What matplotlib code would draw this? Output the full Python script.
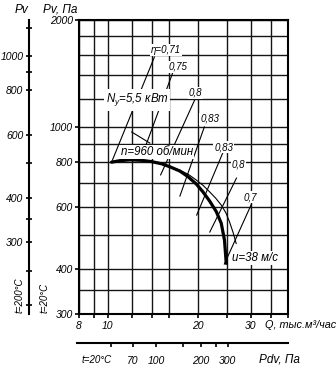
import matplotlib.pyplot as plt
import numpy as np
from matplotlib.ticker import NullFormatter

plt.rcParams['font.family'] = ['Liberation Sans', 'DejaVu Sans']
plt.rcParams['font.style'] = 'italic'
plt.rcParams['font.size'] = 7.5
plt.rcParams['mathtext.fontset'] = 'custom'
plt.rcParams['mathtext.rm'] = 'Liberation Sans:italic'
plt.rcParams['mathtext.it'] = 'Liberation Sans:italic'

# P-Q curve at n=960 rpm (Q in thousand m3/h, Pv in Pa)
q_curve = [10.28, 10.96, 11.83, 12.9, 13.98, 15.1, 16.09, 17.37, 18.51,
           19.74, 20.77, 21.87, 23.02, 23.92, 24.53, 24.86]
p_curve = [799, 807, 811, 809, 802, 791, 776, 755, 728,
           694, 660, 622, 581, 539, 483, 416]

# thin companion line
q_thin = [16.09, 17.4, 18.6, 19.74, 20.8, 21.87, 22.9, 23.92, 24.8, 25.49, 26.2, 26.84]
p_thin = [776, 759, 738, 712, 688, 660, 634, 606, 576, 544, 508, 473]

# efficiency labels and their leader lines
eff_labels = ["η=0,71", "0,75", "0,8", "0,83", "0,83", "0,8", "0,7"]
eff_text_q = [15.6, 17.2, 19.6, 21.9, 24.35, 27.3, 29.95]
eff_text_p = [1648, 1477, 1249, 1056, 881, 785, 638]
lead_q0 = [14.3, 16.5, 19.5, 21.0, 24.2, 26.9, 30.2]
lead_p0 = [1575, 1430, 1194, 1003, 848, 721, 610]
lead_q1 = [10.28, 12.8, 15.0, 17.4, 19.8, 21.9, 24.5]
lead_p1 = [799, 805, 736, 642, 568, 509, 414]

# pointer under the power label
ptr_q = [12.0, 13.8]
ptr_p = [971, 904]

# axis ticks
q_major = [8, 10, 20, 30]
q_minor = [9, 12, 14, 16, 25, 35, 40]
p_major = [300, 400, 600, 800, 1000, 2000]
p_minor = [350, 500, 700, 900, 1200, 1400, 1600, 1800]

# Pv scale for t=200°C and dynamic pressure scale
T_RATIO = 0.63
t200_major = [300, 400, 600, 800, 1000]
t200_minor = [200, 250, 350, 500, 900, 1200]
PDV_COEF = 0.476
pdv_ticks = [50, 70, 100, 150, 200, 250, 300]
pdv_labels = ["", "70", "100", "", "200", "", "300"]

W, H = 336, 368
def fx(px):
    return px / W
def fy(py):
    return 1 - py / H

fig = plt.figure(figsize=(W / 100, H / 100), dpi=100)
L, R, B, T = fx(79), fx(288), fy(314), fy(20)

ax = fig.add_axes([L, B, R - L, T - B])
ax.set_xscale('log')
ax.set_yscale('log')
ax.set_xlim(8, 40)
ax.set_ylim(300, 2000)
ax.set_xticks(q_major, [str(v) for v in q_major])
ax.set_xticks(q_minor, minor=True)
ax.set_yticks(p_major, [str(v) for v in p_major])
ax.set_yticks(p_minor, minor=True)
ax.xaxis.set_minor_formatter(NullFormatter())
ax.yaxis.set_minor_formatter(NullFormatter())
ax.grid(True, which='both', color='#151515', lw=1.0)
ax.tick_params(axis='x', which='both', direction='out', length=3, width=1.2, pad=2)
ax.tick_params(axis='y', which='major', direction='out', length=3, width=1.2, pad=1.5)
ax.tick_params(axis='y', which='minor', length=0)
for s in ax.spines.values():
    s.set_linewidth(1.5)

ax.plot(q_curve, p_curve, color='black', lw=2.3, solid_capstyle='round',
        solid_joinstyle='round', zorder=4)
ax.plot(q_thin, p_thin, color='black', lw=0.8, zorder=4)
for q0, p0, q1, p1 in zip(lead_q0, lead_p0, lead_q1, lead_p1):
    ax.plot([q0, q1], [p0, p1], color='black', lw=0.8, zorder=3)
ax.plot(ptr_q, ptr_p, color='black', lw=0.8, zorder=3)

box = dict(facecolor='white', edgecolor='none', pad=0.6)
for lab, q, p in zip(eff_labels, eff_text_q, eff_text_p):
    ax.text(q, p, lab, ha='center', va='center', fontsize=7, bbox=box, zorder=5)
ax.text(12.5, 1194, "$N_у$=5,5 кВт", ha='center', va='center', fontsize=8.3,
        bbox=dict(facecolor='white', edgecolor='none', pad=1.5), zorder=5)
ax.text(14.56, 853, "n=960 об/мин", ha='center', va='center', fontsize=8.3,
        bbox=dict(facecolor='white', edgecolor='none', pad=1.0), zorder=5)
ax.text(25.9, 431, "u=38 м/с", ha='left', va='center', fontsize=8.3,
        bbox=dict(facecolor='white', edgecolor='none', pad=0.5), zorder=5)

# Pv scale for t=200°C
ax_t = fig.add_axes([fx(29), B, 0.0001, T - B])
ax_t.set_yscale('log')
ax_t.set_ylim(300 * T_RATIO, 2000 * T_RATIO)
ax_t.set_yticks(t200_major, [str(v) for v in t200_major])
ax_t.set_yticks(t200_minor, minor=True)
ax_t.yaxis.set_minor_formatter(NullFormatter())
ax_t.tick_params(axis='y', which='both', direction='inout', length=4, width=1.2, pad=2)
ax_t.set_xticks([])
for k in ['top', 'right', 'bottom']:
    ax_t.spines[k].set_visible(False)
ax_t.spines['left'].set_linewidth(1.5)
ax_t.patch.set_visible(False)

# dynamic pressure scale
ax_d = fig.add_axes([fx(77), fy(343), R - fx(77), 0.0001])
ax_d.set_xscale('log')
ax_d.set_xlim(8 * 10 ** (-2 / 300), 40)
ax_d.set_xticks(np.sqrt(np.array(pdv_ticks) / PDV_COEF), pdv_labels)
ax_d.xaxis.set_minor_locator(plt.NullLocator())
ax_d.tick_params(axis='x', direction='out', length=3, width=1.2, pad=6)
ax_d.set_yticks([])
for k in ['top', 'right', 'left']:
    ax_d.spines[k].set_visible(False)
ax_d.spines['bottom'].set_linewidth(1.5)
ax_d.patch.set_visible(False)

fig.text(fx(15), fy(10), "Pv", ha='left', va='center', fontsize=8.5)
fig.text(fx(43), fy(10), "Pv, Па", ha='left', va='center', fontsize=8.5)
fig.text(fx(265), fy(325), "Q, тыс.м³/час", ha='left', va='center', fontsize=7.8)
fig.text(fx(259), fy(360), "Pdv, Па", ha='left', va='center', fontsize=8.5)
fig.text(fx(82), fy(360), "t=20°C", ha='left', va='center', fontsize=7)
fig.text(fx(20), fy(313), "t=200°C", ha='center', va='bottom', rotation=90, fontsize=7)
fig.text(fx(45), fy(313), "t=20°C", ha='center', va='bottom', rotation=90, fontsize=7)

fig.savefig("out.png", dpi=100)
